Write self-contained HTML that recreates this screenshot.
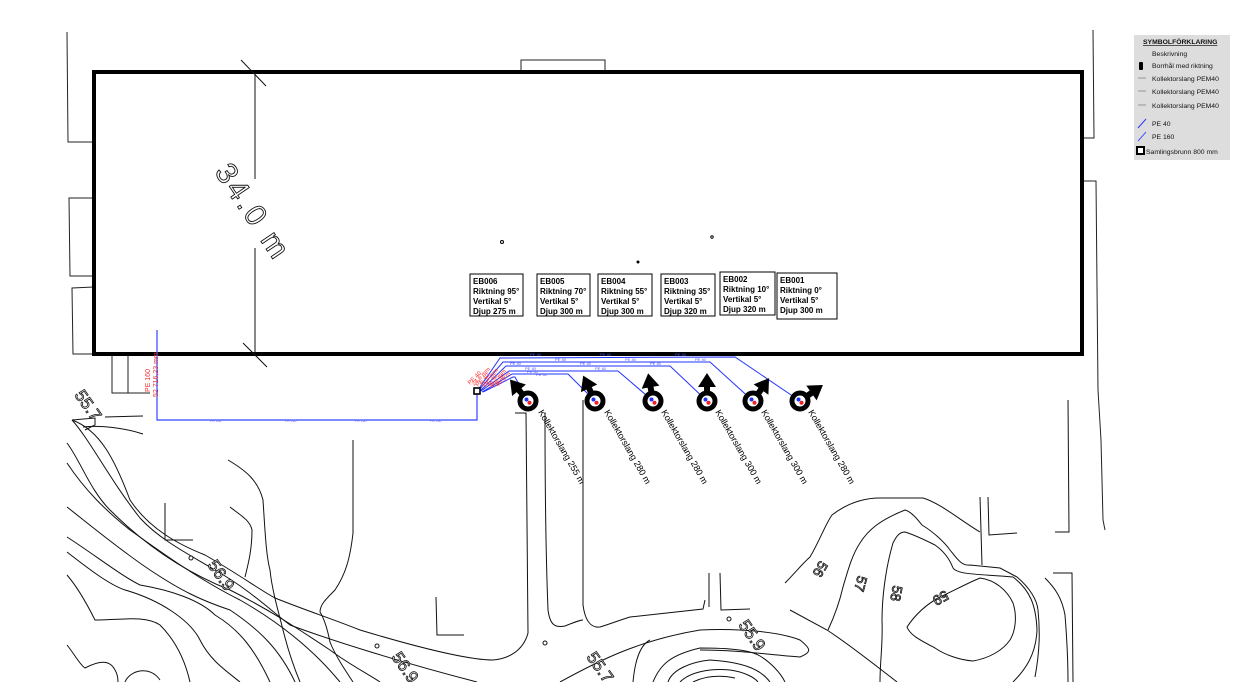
<!DOCTYPE html>
<html><head><meta charset="utf-8"><style>
html,body{margin:0;padding:0;background:#fff;}
svg{display:block;font-family:"Liberation Sans",sans-serif;}
</style></head><body>
<svg width="1234" height="682" viewBox="0 0 1234 682" xmlns="http://www.w3.org/2000/svg">
<rect width="1234" height="682" fill="#fff"/>
<g fill="none" stroke="#222" stroke-width="1">
<polyline points="67,32 68,142 94,142"/>
<polyline points="94,198 69,198 70,276 94,276"/>
<polyline points="94,287 72,288 73,354 94,354"/>
<polyline points="521,72 521,60 605,60 605,72"/>
<polyline points="1093,30 1094,138 1082,138"/>
<polyline points="1082,181 1096,181 1098,390 1101,440 1103,520 1105,530"/>
<polyline points="112,354 112,393 128,393 128,354"/>
<polyline points="128,393 150,393"/>
</g>
<rect x="94" y="72" width="988" height="282" fill="none" stroke="#000" stroke-width="4"/>
<g stroke="#111" stroke-width="1">
<line x1="255" y1="72" x2="255" y2="179"/>
<line x1="255" y1="248" x2="255" y2="354"/>
<line x1="241" y1="60" x2="266" y2="86"/>
<line x1="243" y1="343" x2="267" y2="367"/>
</g>
<text x="0" y="0" transform="translate(214,172) rotate(56)" font-size="30" fill="none" stroke="#111" stroke-width="0.9" letter-spacing="3">34.0 m</text>
<circle cx="502" cy="242" r="1.5" fill="none" stroke="#000"/>
<circle cx="638" cy="262" r="1.5" fill="#000"/>
<circle cx="712" cy="237" r="1.2" fill="none" stroke="#000"/>
<g font-size="8" font-weight="bold" fill="#000">
<rect x="470" y="274" width="53" height="42" fill="#fff" stroke="#000"/>
<text x="473" y="284">EB006</text><text x="473" y="294">Riktning 95°</text><text x="473" y="304">Vertikal 5°</text><text x="473" y="314">Djup 275 m</text>
<rect x="537" y="274" width="53" height="42" fill="#fff" stroke="#000"/>
<text x="540" y="284">EB005</text><text x="540" y="294">Riktning 70°</text><text x="540" y="304">Vertikal 5°</text><text x="540" y="314">Djup 300 m</text>
<rect x="598" y="274" width="54" height="42" fill="#fff" stroke="#000"/>
<text x="601" y="284">EB004</text><text x="601" y="294">Riktning 55°</text><text x="601" y="304">Vertikal 5°</text><text x="601" y="314">Djup 300 m</text>
<rect x="661" y="274" width="54" height="42" fill="#fff" stroke="#000"/>
<text x="664" y="284">EB003</text><text x="664" y="294">Riktning 35°</text><text x="664" y="304">Vertikal 5°</text><text x="664" y="314">Djup 320 m</text>
<rect x="720" y="272" width="55" height="43" fill="#fff" stroke="#000"/>
<text x="723" y="282">EB002</text><text x="723" y="292">Riktning 10°</text><text x="723" y="302">Vertikal 5°</text><text x="723" y="312">Djup 320 m</text>
<rect x="777" y="273" width="60" height="46" fill="#fff" stroke="#000"/>
<text x="780" y="283">EB001</text><text x="780" y="293">Riktning 0°</text><text x="780" y="303">Vertikal 5°</text><text x="780" y="313">Djup 300 m</text>
</g>
<g fill="none" stroke="#3344ff" stroke-width="1.2">
<polyline points="157,330 157,420 477,420 477,391"/>
</g>
<g font-size="3.5" fill="#5566ff">
<text x="210" y="422">PE 160</text><text x="285" y="422">PE 160</text><text x="355" y="422">PE 160</text><text x="430" y="422">PE 160</text>
</g>
<g font-size="7" fill="#ee3333">
<text transform="translate(150,392) rotate(-90)">PE 160</text>
<text transform="translate(158,397) rotate(-90)">52 716,23 mm</text>
</g>
<g fill="none" stroke="#2233ff" stroke-width="1">
<polyline points="478,390 500,358 735,357 800,401"/>
<polyline points="479,390 503,362 710,362 753,401"/>
<polyline points="480,391 506,366 670,366 707,401"/>
<polyline points="481,391 509,371 618,371 653,401"/>
<polyline points="482,392 512,374 568,374 595,401"/>
<polyline points="483,392 513,377 515,377 528,401"/>
</g>
<g font-size="4" fill="#4455ff">
<text x="530" y="356">PE 40</text><text x="600" y="356">PE 40</text><text x="675" y="356">PE 40</text>
<text x="555" y="361">PE 40</text><text x="625" y="361">PE 40</text><text x="695" y="361">PE 40</text>
<text x="510" y="365">PE 40</text><text x="580" y="365">PE 40</text><text x="650" y="365">PE 40</text>
<text x="525" y="370">PE 40</text><text x="595" y="370">PE 40</text>
<text x="527" y="373">PE 40</text><text x="536" y="376">PE 40</text>
</g>
<g font-size="6" fill="#ff3333">
<text transform="translate(470,385) rotate(-45)">PE 40</text>
<text transform="translate(474,386) rotate(-45)">24,6 mm</text>
<text transform="translate(478,387) rotate(-45)">PE 40</text>
<text transform="translate(482,387) rotate(-45)">31,4 mm</text>
<text transform="translate(486,388) rotate(-45)">PE 40</text>
<text transform="translate(490,388) rotate(-45)">38,2 mm</text>
<text transform="translate(494,388) rotate(-45)">PE 40</text>
<text transform="translate(498,387) rotate(-45)">45,6 m</text>
</g>
<rect x="474" y="388" width="6" height="6" fill="#fff" stroke="#000" stroke-width="1.6"/>
<defs>
<g id="arr"><line x1="0" y1="0" x2="17" y2="0" stroke="#000" stroke-width="6"/><polygon points="14,-9 28,0 14,9" fill="#000"/></g>
<g id="bh"><circle r="8" fill="#fff" stroke="#000" stroke-width="5"/><circle cx="-1.5" cy="-1.5" r="2" fill="#2233ff"/><circle cx="1.5" cy="1.8" r="2" fill="#ee2222"/></g>
</defs>
<g>
<use href="#arr" transform="translate(528,401) rotate(-130)"/><use href="#bh" x="528" y="401"/>
<use href="#arr" transform="translate(595,401) rotate(-115)"/><use href="#bh" x="595" y="401"/>
<use href="#arr" transform="translate(653,401) rotate(-100)"/><use href="#bh" x="653" y="401"/>
<use href="#arr" transform="translate(707,401) rotate(-90)"/><use href="#bh" x="707" y="401"/>
<use href="#arr" transform="translate(753,401) rotate(-55)"/><use href="#bh" x="753" y="401"/>
<use href="#arr" transform="translate(800,401) rotate(-35)"/><use href="#bh" x="800" y="401"/>
</g>
<g font-size="9" fill="#000">
<text transform="translate(538,412) rotate(60)">Kollektorslang 255 m</text>
<text transform="translate(604,412) rotate(60)">Kollektorslang 280 m</text>
<text transform="translate(661,412) rotate(60)">Kollektorslang 280 m</text>
<text transform="translate(715,412) rotate(60)">Kollektorslang 300 m</text>
<text transform="translate(761,412) rotate(60)">Kollektorslang 300 m</text>
<text transform="translate(808,412) rotate(60)">Kollektorslang 280 m</text>
</g>
<g fill="none" stroke="#111" stroke-width="1">
<path d="M72,420 C100,430 115,460 130,500 C150,530 180,545 205,555 C240,575 260,590 275,598 C310,612 330,618 360,630 C420,648 470,660 493,660 C515,658 525,645 528,633 L526,413 L515,413"/>
<path d="M72,420 C90,440 110,480 140,518 C160,540 190,555 215,570 C250,590 270,610 290,625 C330,640 400,662 477,682"/>
<path d="M72,420 L95,418 L95,425 L85,430"/>
<path d="M83,427 C100,425 125,428 143,434"/>
<path d="M105,417 L143,416"/>
<path d="M228,460 C245,470 258,480 263,500 C265,530 266,555 270,570 C272,590 278,610 283,630 C288,650 295,670 300,682"/>
<path d="M230,507 C240,515 250,520 252,530 C252,550 248,565 245,577"/>
<path d="M353,440 L353,533 C350,560 345,575 335,590 C325,600 320,605 320,612 C325,620 328,632 330,642 C335,655 345,670 353,682"/>
<path d="M165,503 L165,540 L193,540"/>
<path d="M436,597 L437,635 L464,635"/>
<path d="M545,413 C545,480 546,560 548,610 C550,625 555,628 565,626 C575,622 580,620 583,620"/>
<path d="M583,400 L583,605 C585,620 590,628 600,627 C610,624 620,620 630,617 L703,609 L705,600"/>
<path d="M709,573 L709,607"/>
<path d="M720,573 L721,610 L750,609"/>
<path d="M67,443 C80,460 90,490 110,510 C140,540 180,570 230,590 C270,610 300,630 330,650 C350,665 370,675 380,682"/>
<path d="M67,463 C85,490 105,510 130,530 C165,555 200,580 240,600 C275,620 300,640 320,660 C330,670 335,676 340,682"/>
<path d="M67,507 C90,525 120,550 150,570 C180,590 200,600 230,610 C260,630 280,650 295,682"/>
<path d="M67,537 C95,555 120,575 140,585 C170,590 200,600 215,615 C240,630 255,650 270,682"/>
<path d="M67,552 C90,570 110,585 125,590 C160,600 190,620 200,640 C210,660 225,670 240,682"/>
<path d="M67,575 C80,590 90,610 95,620 C120,620 145,615 160,625 C175,640 185,660 190,682"/>
<path d="M67,645 C75,655 80,665 85,668 C100,660 110,660 115,670 C118,675 118,680 118,682"/>
<path d="M125,682 C130,670 150,665 160,680"/>
<path d="M560,682 C600,660 640,640 700,630 C740,628 780,632 800,640 C810,648 813,652 800,657 C770,655 740,650 700,650"/>
<path d="M633,682 C635,660 640,645 650,640"/>
<path d="M653,682 C660,665 670,655 700,648 C730,648 750,650 760,656 C770,662 780,672 785,682"/>
<path d="M668,682 C672,670 690,662 710,660 C740,662 760,668 770,682"/>
<path d="M680,682 C690,672 710,668 730,670 C745,672 755,678 758,682"/>
<path d="M693,682 C705,676 720,675 735,678"/>
<path d="M790,610 L827,630 C850,645 875,665 897,682"/>
<path d="M785,583 C795,573 803,563 810,557 C820,540 825,525 832,515 C845,505 860,498 880,498 L923,498 C940,503 960,520 980,532"/>
<path d="M828,630 C835,615 840,600 843,587 C848,570 852,555 860,543 C868,530 880,520 905,510 C912,512 918,520 922,525 C935,533 945,543 950,550 C958,560 962,566 970,565 L1000,568 L1017,577 C1030,588 1037,600 1038,610 C1040,630 1040,650 1035,677"/>
<path d="M880,682 C880,660 883,645 882,620 C882,600 885,570 893,543 C897,535 900,532 905,532 C915,535 925,540 935,545 C945,552 950,560 953,568 C958,575 980,574 1013,577 C1030,590 1036,605 1037,630 C1036,655 1025,670 1013,682"/>
<path d="M907,627 C915,615 925,605 940,597 C955,590 970,582 980,578 C995,580 1007,590 1013,603 C1017,615 1016,630 1010,640 C1003,650 990,658 973,661 C960,660 945,655 935,648 C920,640 910,635 907,627 Z"/>
<path d="M980,497 L982,565"/>
<path d="M988,497 L989,535 L1017,533"/>
<path d="M1068,400 L1069,532 L1055,532"/>
<path d="M1053,573 L1072,573 L1073,682"/>
<path d="M1045,578 C1055,588 1062,598 1065,615 C1067,640 1068,660 1068,682"/>
</g>
<g fill="#fff" stroke="#111" stroke-width="1">
<circle cx="191" cy="558" r="2"/><circle cx="377" cy="646" r="2"/><circle cx="545" cy="643" r="2"/><circle cx="729" cy="619" r="2"/>
</g>
<g font-size="17" fill="#fff" stroke="#111" stroke-width="0.8">
<text transform="translate(74,395) rotate(55)">55.7</text>
<text transform="translate(207,565) rotate(55)">56.9</text>
<text transform="translate(391,657) rotate(55)">56.9</text>
<text transform="translate(586,657) rotate(55)">55.7</text>
<text transform="translate(738,625) rotate(55)">55.9</text>
</g>
<g font-size="14" fill="#fff" stroke="#111" stroke-width="0.8">
<text transform="translate(820,560) rotate(120)">56</text>
<text transform="translate(858,575) rotate(105)">57</text>
<text transform="translate(893,585) rotate(100)">58</text>
<text transform="translate(945,590) rotate(150)">59</text>
</g>
<rect x="1134" y="35" width="96" height="125" fill="#ddd"/>
<g font-size="6.8" fill="#111">
<text x="1143" y="44" font-weight="bold" text-decoration="underline">SYMBOLFÖRKLARING</text>
<text x="1152" y="56">Beskrivning</text>
<text x="1152" y="68">Borrhål med riktning</text>
<text x="1152" y="81">Kollektorslang PEM40</text>
<text x="1152" y="94">Kollektorslang PEM40</text>
<text x="1152" y="108">Kollektorslang PEM40</text>
<text x="1152" y="126">PE 40</text>
<text x="1152" y="139">PE 160</text>
<text x="1146" y="154">Samlingsbrunn 800 mm</text>
</g>
<rect x="1139" y="62" width="4" height="8" rx="1" fill="#000"/>
<g stroke="#666" stroke-width="0.6"><line x1="1138" y1="78" x2="1146" y2="78"/><line x1="1138" y1="91" x2="1146" y2="91"/><line x1="1138" y1="105" x2="1146" y2="105"/></g>
<line x1="1138" y1="128" x2="1146" y2="119" stroke="#2233ff"/>
<line x1="1138" y1="141" x2="1146" y2="132" stroke="#4455ff"/>
<rect x="1137" y="147" width="7" height="7" fill="#fff" stroke="#000" stroke-width="2"/>
</svg>
</body></html>
